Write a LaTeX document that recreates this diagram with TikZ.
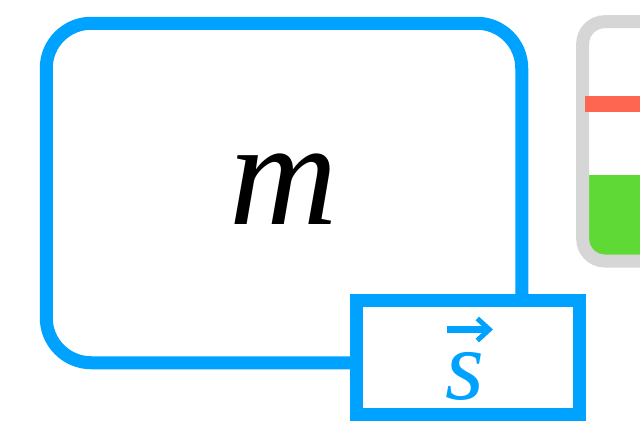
\documentclass[tikz,border=0pt]{standalone}
\usepackage{fontspec}
\setmainfont{Liberation Serif}
\usetikzlibrary{arrows.meta}
\definecolor{boxblue}{RGB}{0,162,255}
\definecolor{gaugegray}{RGB}{214,214,214}
\definecolor{gaugered}{RGB}{255,102,82}
\definecolor{gaugegreen}{RGB}{95,217,53}
\tikzset{
  bluebox/.style={draw=boxblue, line width=13pt, inner sep=0pt, fill=white},
  biglabel/.style={font=\fontsize{150}{150}\selectfont\itshape, inner sep=0pt},
  smalllabel/.style={font=\fontsize{100}{100}\selectfont\itshape, text=boxblue, inner sep=0pt},
}
\begin{document}
\begin{tikzpicture}[x=1pt,y=-1pt]
\useasboundingbox (0,0) rectangle (640,421);
\clip (0,0) rectangle (640,421);
% main box
\node[bluebox, rounded corners=45pt, minimum width=475.5pt, minimum height=339.5pt] (mbox) at (284,193) {};
\node[biglabel] (mlabel) at (284,189) {m};
% gauge
\begin{scope}
  \clip[rounded corners=22pt] (582.7,21.7) rectangle (700,261);
  \fill[gaugegreen] (570,175) rectangle (700,270);
\end{scope}
\draw[gaugegray, line width=13pt, rounded corners=22pt] (582.7,21.7) rectangle (700,261);
\fill[gaugered] (585,96) rectangle (700,112);
% s box
\node[bluebox, minimum width=222.5pt, minimum height=114pt] (sbox) at (467.75,357) {};
\node[smalllabel] (slabel) at (465,376) {s};
\coordinate (arrA) at (447,329.5);
\coordinate (arrB) at (493,329.5);
\draw[boxblue, line width=7pt, -{Straight Barb[length=12pt,width=22pt,line width=5pt]}] (arrA) -- (arrB);
\end{tikzpicture}
\end{document}
